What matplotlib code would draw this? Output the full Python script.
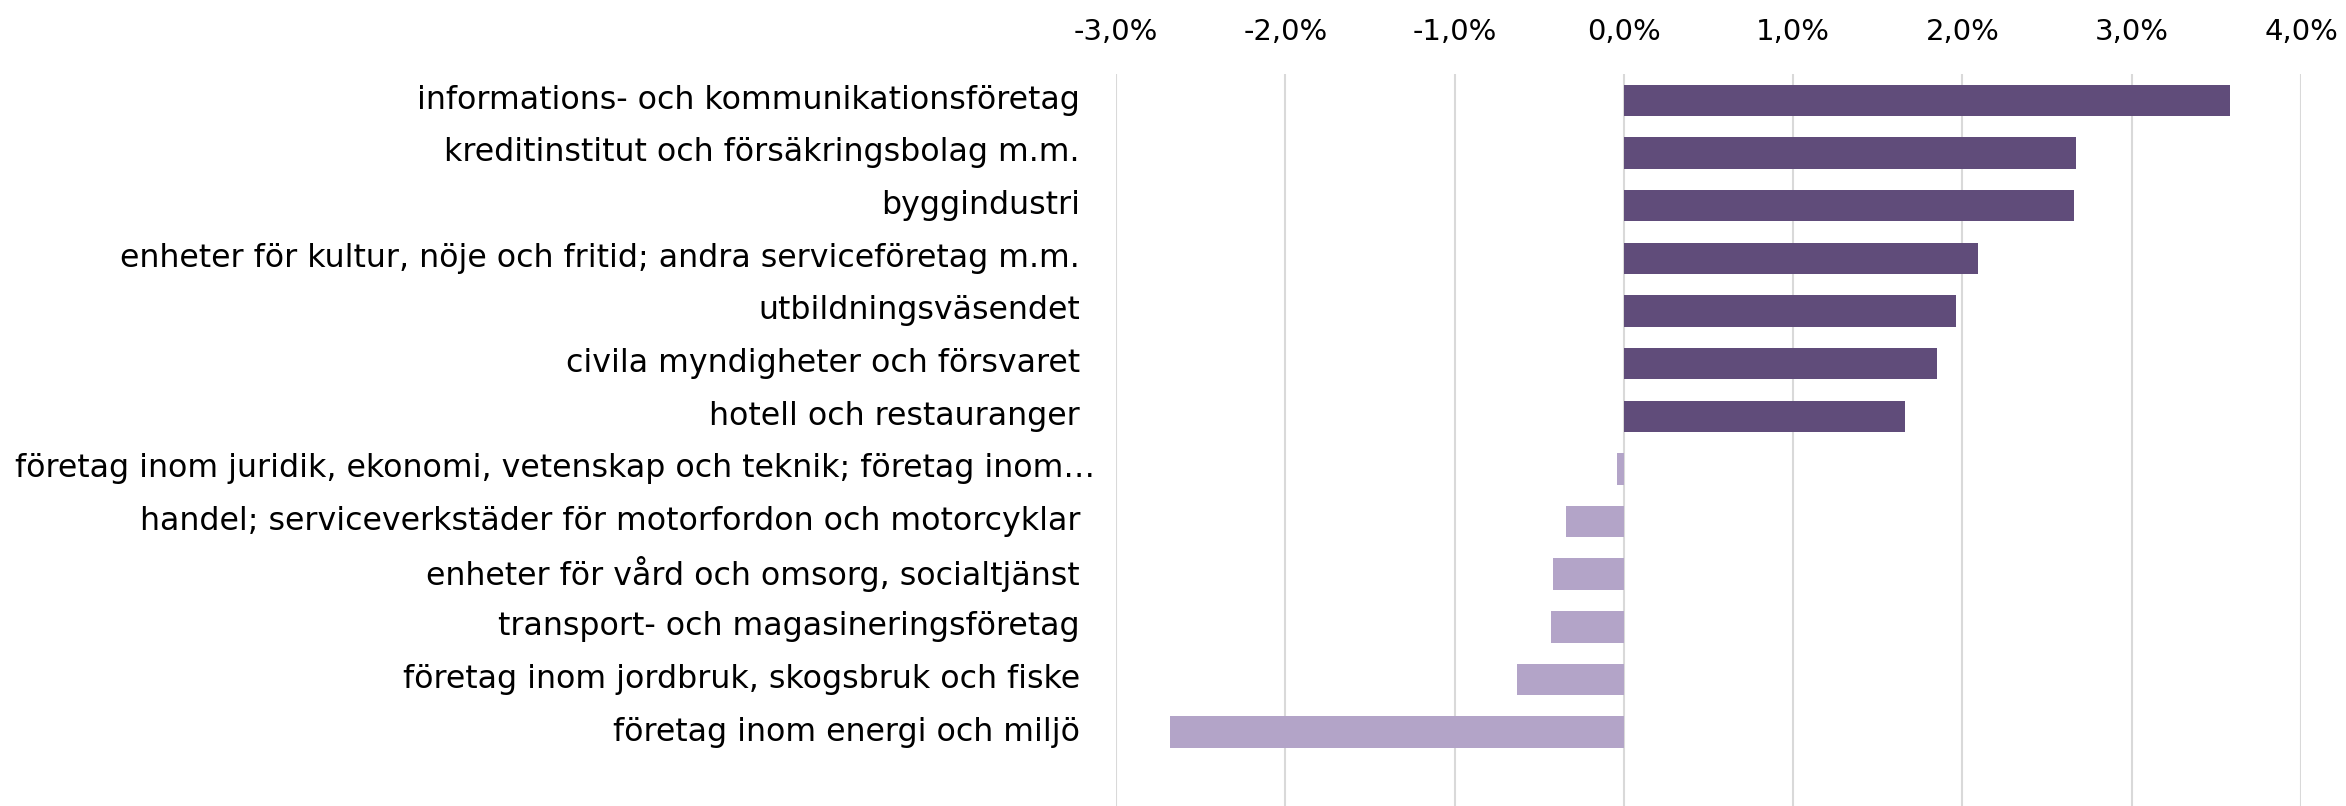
import matplotlib
matplotlib.use("Agg")
import matplotlib.pyplot as plt
import matplotlib.transforms as mtransforms
import numpy as np

categories = [
    "informations- och kommunikationsföretag",
    "kreditinstitut och försäkringsbolag m.m.",
    "byggindustri",
    "enheter för kultur, nöje och fritid; andra serviceföretag m.m.",
    "utbildningsväsendet",
    "civila myndigheter och försvaret",
    "hotell och restauranger",
    "företag inom juridik, ekonomi, vetenskap och teknik; företag inom…",
    "handel; serviceverkstäder för motorfordon och motorcyklar",
    "enheter för vård och omsorg, socialtjänst",
    "transport- och magasineringsföretag",
    "företag inom jordbruk, skogsbruk och fiske",
    "företag inom energi och miljö",
]
values = [3.58, 2.67, 2.66, 2.09, 1.96, 1.85, 1.66,
          -0.04, -0.34, -0.42, -0.43, -0.63, -2.68]
x_ticks = [-3, -2, -1, 0, 1, 2, 3, 4]

dark = "#604C7A"
light = "#B3A4C8"

plt.rcParams["font.family"] = ["DejaVu Sans"]

W, H = 2346, 806
fig = plt.figure(figsize=(W / 100, H / 100), dpi=100)
ax = fig.add_axes([1116 / W, 0, (2301 - 1116) / W, 1 - 74 / H])

y = np.arange(len(categories))
colors = [dark if v >= 0 else light for v in values]
ax.barh(y, values, height=0.6, color=colors, zorder=2)

ax.set_xlim(-3, 4)
ax.set_ylim(13.4, -0.5)
ax.set_xticks(x_ticks)
ax.set_xticklabels([f"{t:.1f}%".replace(".", ",") for t in x_ticks], fontsize=21)
ax.xaxis.tick_top()
ax.tick_params(axis="x", length=0, pad=20)
ax.set_yticks([])
ax.grid(axis="x", color="#D9D9D9", linewidth=1.5, zorder=0)
for s in ax.spines.values():
    s.set_visible(False)

# category labels, right aligned left of the plot; the long one overflows
trans = mtransforms.blended_transform_factory(fig.transFigure, ax.transData)
for i, lab in enumerate(categories):
    if i == 7:
        ax.text(15 / W, i, lab, transform=trans, ha="left", va="center", fontsize=22.8)
    else:
        ax.text(1080 / W, i, lab, transform=trans, ha="right", va="center", fontsize=22.8)

fig.savefig("out.png", dpi=100)
